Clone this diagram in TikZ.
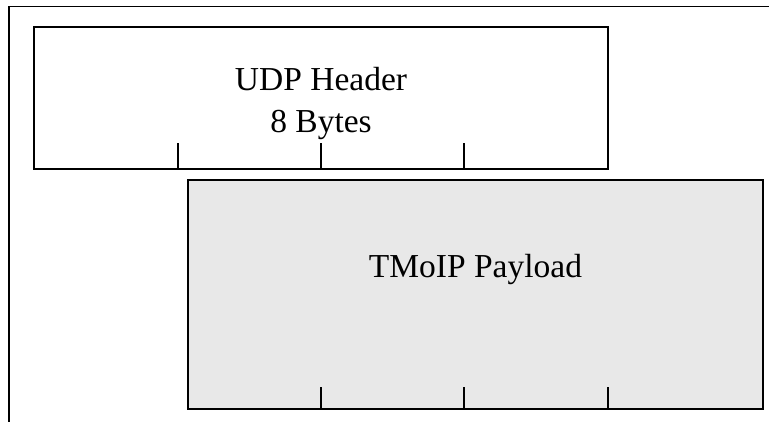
\documentclass[tikz,border=0pt]{standalone}
\usepackage{fontspec}
\setmainfont{Liberation Serif}
\definecolor{payloadgray}{HTML}{E8E8E8}
\tikzset{
  field/.style={draw, line width=1.7pt, anchor=south west, inner sep=0pt, outer sep=0pt},
  tickmark/.style={line width=1.4pt},
  caption/.style={font=\fontsize{33.5}{40}\selectfont, anchor=base}
}

\begin{document}
\begin{tikzpicture}[x=1pt,y=1pt]
\useasboundingbox (0,0) rectangle (769,422);
\draw[line width=1.8pt] (9,-5) |- (775,415.5);

\node[field, minimum width=574pt, minimum height=142pt] (udp) at (34,253) {};
\node[field, fill=payloadgray, minimum width=575pt, minimum height=229pt] (payload) at (188,13) {};

\foreach \x in {144,287,430}
  \draw[tickmark] (udp.south west) ++(\x,0) -- ++(0,26);
\foreach \x in {133,276,420}
  \draw[tickmark] (payload.south west) ++(\x,0) -- ++(0,22);

\node[caption] (udptitle) at (321,331) {UDP Header};
\node[caption] (udpsize) at (321,289) {8 Bytes};
\node[caption] (payloadtitle) at (475.5,144) {TMoIP Payload};
\end{tikzpicture}
\end{document}
